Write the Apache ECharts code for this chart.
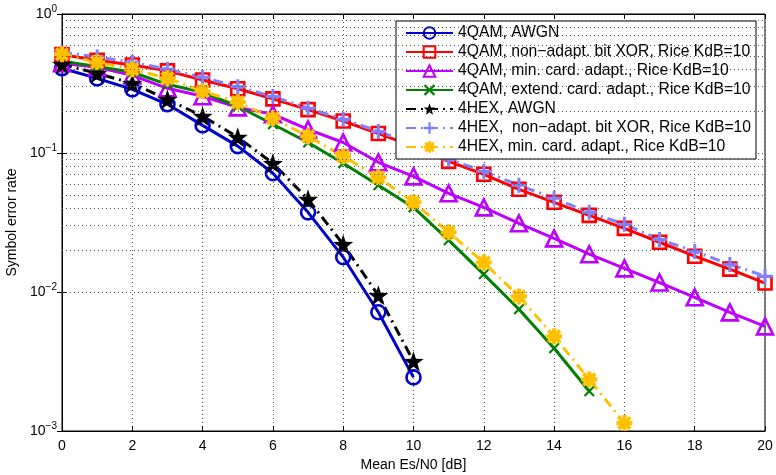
<!DOCTYPE html>
<html>
<head>
<meta charset="utf-8">
<script src="https://cdn.jsdelivr.net/npm/echarts@6/dist/echarts.min.js"></script>
<style>
  html, body { margin: 0; padding: 0; background: #fff; }
  #chart { width: 776px; height: 475px; }
</style>
</head>
<body>
<div id="chart"></div>
<script>
// Es/N0 points in dB
const snr = [0, 1, 2, 3, 4, 5, 6, 7, 8, 9, 10, 11, 12, 13, 14, 15, 16, 17, 18, 19, 20]

// symbol error rate per curve
const qamAwgn = [0.407, 0.344, 0.287, 0.224, 0.158, 0.112, 0.0715, 0.0374, 0.0178, 0.00715, 0.00243]
const qamXor = [0.51, 0.465, 0.43, 0.39, 0.335, 0.29, 0.245, 0.205, 0.17, 0.138, 0.112, 0.087, 0.0703, 0.0548, 0.0442, 0.0356, 0.0287, 0.0228, 0.0181, 0.0146, 0.0116]
const qamMinCard = [0.442, 0.414, 0.362, 0.292, 0.256, 0.213, 0.19, 0.148, 0.119, 0.0857, 0.0679, 0.0513, 0.0406, 0.0312, 0.0243, 0.0187, 0.0148, 0.0117, 0.00916, 0.00714, 0.00566]
const qamExtCard = [0.457, 0.42, 0.381, 0.312, 0.273, 0.217, 0.161, 0.119, 0.0843, 0.0586, 0.0406, 0.0236, 0.0134, 0.00752, 0.00394, 0.00193]
const hexAwgn = [0.435, 0.374, 0.317, 0.243, 0.184, 0.13, 0.0843, 0.0465, 0.022, 0.00946, 0.00317]
const hexXor = [0.53, 0.49, 0.45, 0.4, 0.35, 0.3, 0.255, 0.21, 0.175, 0.143, 0.115, 0.09, 0.0739, 0.0586, 0.0472, 0.0374, 0.0307, 0.0239, 0.0196, 0.0158, 0.013]
const hexMinCard = [0.513, 0.449, 0.4, 0.345, 0.278, 0.232, 0.178, 0.132, 0.0946, 0.0668, 0.0442, 0.0269, 0.0163, 0.0093, 0.0048, 0.00235, 0.00114]

// axis ticks
const xTicks = [0, 2, 4, 6, 8, 10, 12, 14, 16, 18, 20]
const yDecades = [0.001, 0.01, 0.1, 1]
const minorSteps = [2, 3, 4, 5, 6, 7, 8, 9]

const FONT = 'Liberation Sans, Arial, sans-serif'

const shapes = {
  star: 'path://M5,0L6.18,3.38L9.76,3.45L6.9,5.62L7.94,9.05L5,7L2.06,9.05L3.1,5.62L0.24,3.45L3.82,3.38Z',
  plus: 'path://M4,0H6V4H10V6H6V10H4V6H0V4H4Z',
  cross: 'path://M1.4,0L5,3.6L8.6,0L10,1.4L6.4,5L10,8.6L8.6,10L5,6.4L1.4,10L0,8.6L3.6,5L0,1.4Z',
  aster: 'path://M0,3.7H10V6.3H0Z M3.7,0H6.3V10H3.7Z M2.2,0.5L9.5,7.8L7.8,9.5L0.5,2.2Z M7.8,0.5L9.5,2.2L2.2,9.5L0.5,7.8Z'
}

function pairs(vals) {
  return vals.map((v, i) => [snr[i], v])
}

function curve(name, vals, color, symbol, size, hollow, dash) {
  return {
    name: name,
    type: 'line',
    data: pairs(vals),
    symbol: symbol,
    symbolSize: size,
    showAllSymbol: true,
    animation: false,
    lineStyle: { color: color, width: 3, type: dash ? [10, 5, 2, 5] : 'solid' },
    itemStyle: hollow
      ? { color: 'transparent', borderColor: color, borderWidth: 2.6 }
      : { color: color, borderColor: color, borderWidth: 0 }
  }
}

const minorLines = []
yDecades.slice(0, 3).forEach(d => {
  minorSteps.forEach(m => minorLines.push({ yAxis: +(d * m).toPrecision(3) }))
})

const series = [
  curve('4QAM, AWGN', qamAwgn, '#0000cc', 'circle', 14, true, false),
  curve('4QAM, non\u2212adapt. bit XOR, Rice KdB=10', qamXor, '#ff0000', 'rect', 13, true, false),
  curve('4QAM, min. card. adapt., Rice KdB=10', qamMinCard, '#bf00ff', 'triangle', 16, true, false),
  curve('4QAM, extend. card. adapt., Rice KdB=10', qamExtCard, '#008000', shapes.cross, 11, false, false),
  curve('4HEX, AWGN', hexAwgn, '#000000', shapes.star, 20, false, true),
  curve('4HEX,  non\u2212adapt. bit XOR, Rice KdB=10', hexXor, '#8080ff', shapes.plus, 15, false, true),
  curve('4HEX, min. card. adapt., Rice KdB=10', hexMinCard, '#ffc000', shapes.aster, 16, false, true)
]

// dotted minor grid of the log axis
series[0].markLine = {
  silent: true,
  symbol: ['none', 'none'],
  label: { show: false },
  animation: false,
  lineStyle: { color: '#555', width: 1, type: [1, 3] },
  data: minorLines
}

const chart = echarts.init(document.getElementById('chart'), null, { renderer: 'canvas' })

chart.setOption({
  backgroundColor: '#fff',
  animation: false,
  textStyle: { fontFamily: FONT },
  grid: {
    left: 62, right: 11, top: 14, bottom: 44,
    containLabel: false, outerBoundsMode: 'none',
    show: true, borderColor: '#000', borderWidth: 1
  },
  legend: {
    orient: 'vertical',
    left: 396,
    top: 21,
    backgroundColor: '#fff',
    borderColor: '#000',
    borderWidth: 1,
    padding: [4, 5, 4, 9],
    itemGap: 3,
    itemWidth: 47,
    itemHeight: 14.5,
    textStyle: { fontSize: 15.7, color: '#000', fontFamily: FONT },
    data: series.map(s => s.name)
  },
  xAxis: [
    {
      type: 'value', min: 0, max: 20, interval: 2,
      name: 'Mean Es/N0 [dB]', nameLocation: 'middle', nameGap: 26,
      nameTextStyle: { fontSize: 14, color: '#000' },
      axisLine: { show: true, lineStyle: { color: '#000' } },
      axisTick: { inside: true, length: 5, lineStyle: { color: '#000' } },
      axisLabel: { fontSize: 14, color: '#000', margin: 8,
        formatter: v => xTicks.includes(v) ? String(v) : '' },
      splitLine: { show: true, lineStyle: { color: '#555', width: 1, type: [1, 3] } }
    },
    {
      type: 'value', min: 0, max: 20, interval: 2, position: 'top',
      axisLine: { show: true, lineStyle: { color: '#000' } },
      axisTick: { inside: true, length: 5, lineStyle: { color: '#000' } },
      axisLabel: { show: false },
      splitLine: { show: false }
    }
  ],
  yAxis: [
    {
      type: 'log', logBase: 10, min: yDecades[0], max: yDecades[yDecades.length - 1],
      name: 'Symbol error rate', nameLocation: 'middle', nameGap: 41,
      nameTextStyle: { fontSize: 14, color: '#000' },
      axisLine: { show: true, lineStyle: { color: '#000' } },
      axisTick: { inside: true, length: 5, lineStyle: { color: '#000' } },
      axisLabel: {
        fontSize: 14, color: '#000', margin: 5,
        formatter: v => {
          const e = Math.round(Math.log10(v))
          return '{b|10}{e|' + (e < 0 ? '\u2212' + (-e) : e) + '}'
        },
        rich: {
          b: { fontSize: 14, color: '#000', fontFamily: FONT },
          e: { fontSize: 10, color: '#000', fontFamily: FONT, padding: [0, 0, 9, 0] }
        }
      },
      splitLine: { show: true, lineStyle: { color: '#555', width: 1, type: [1, 3] } }
    },
    {
      type: 'log', logBase: 10, min: yDecades[0], max: yDecades[yDecades.length - 1],
      position: 'right',
      axisLine: { show: true, lineStyle: { color: '#000' } },
      axisTick: { inside: true, length: 5, lineStyle: { color: '#000' } },
      axisLabel: { show: false },
      splitLine: { show: false }
    }
  ],
  series: series
})
</script>
</body>
</html>
